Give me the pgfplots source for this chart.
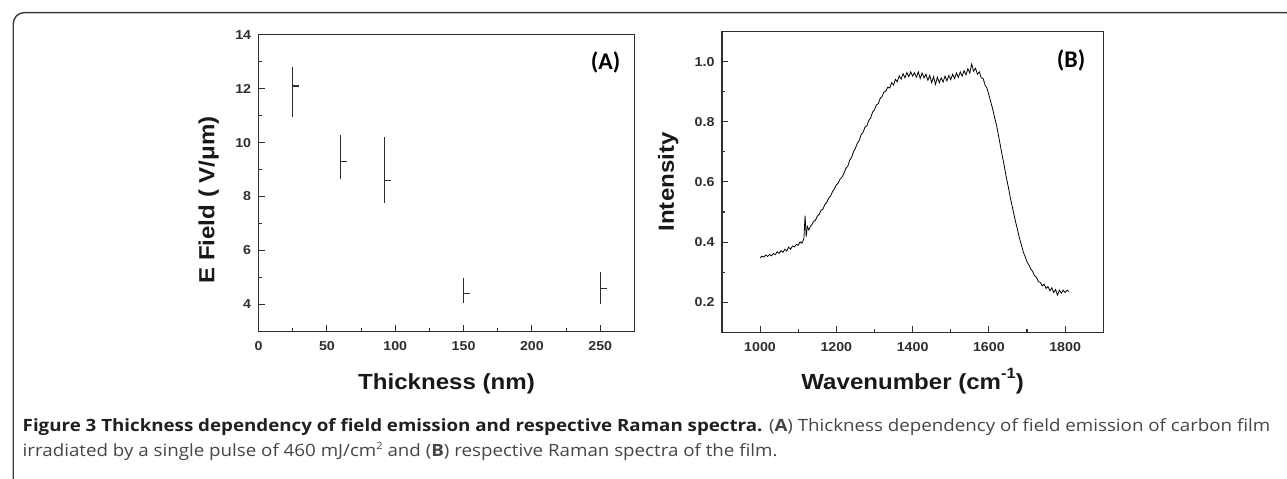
\documentclass[border=0pt]{standalone}
\usepackage{fontspec}
\usepackage{pgfplots}
\pgfplotsset{compat=1.18}
\newfontfamily\figfont[FakeStretch=1.1]{Liberation Sans}
\newfontfamily\labfont{Carlito}
\newfontfamily\capfont{Open Sans}
\definecolor{axiscol}{HTML}{2E2E2E}
\definecolor{captext}{HTML}{454545}
\definecolor{capbold}{HTML}{231F20}
\definecolor{framecol}{HTML}{3A3A3A}

% short dash to the right of the centre of each error bar
\pgfdeclareplotmark{rtick}{%
  \pgfpathmoveto{\pgfpointorigin}%
  \pgfpathlineto{\pgfpoint{6.5pt}{0pt}}%
  \pgfusepathqstroke}

\pgfplotsset{
  panel/.style={
    scale only axis,
    axis line style={line width=1.3pt, draw=axiscol},
    tick pos=left,
    tick align=inside,
    major tick length=6pt,
    minor tick length=3.5pt,
    tick style={line width=1.1pt, draw=axiscol},
    minor tick num=1,
    /pgf/number format/assume math mode=true,
    /pgf/number format/1000 sep={},
    ticklabel style={font=\figfont\bfseries\fontsize{13}{13}\selectfont, text=axiscol},
    xticklabel style={yshift=-7pt},
    yticklabel style={xshift=-4pt},
    label style={font=\figfont\bfseries\fontsize{22}{22}\selectfont, text=black!90},
  },
}

\begin{document}
\newsavebox\capone
\sbox\capone{\capfont\fontsize{17}{17}\selectfont
  {\bfseries\color{capbold}Figure 3 Thickness dependency of field emission and respective Raman spectra.}
  \color{captext}(\textbf{A}) Thickness dependency of field emission of carbon film}
\pgfmathsetmacro\capsc{1254pt/\the\wd\capone}
\begin{tikzpicture}
  \useasboundingbox (0pt,0pt) rectangle (1287pt,-481pt);
  \clip (0pt,0pt) rectangle (1287pt,-481pt);
  \draw[framecol, line width=1.4pt, rounded corners=11pt]
    (6.7pt,-500pt) -- (6.7pt,-12.7pt) -- (1297pt,-12.7pt) -- (1297pt,-500pt);

  % (A) field emission threshold against film thickness
  \begin{axis}[panel,
    at={(253.3pt,-333pt)}, anchor=south west,
    width=377.7pt, height=298pt,
    xmin=0, xmax=275, ymin=3, ymax=14,
    xtick={0,50,...,250}, ytick={4,6,...,14},
    xlabel={Thickness (nm)},
    ylabel={E Field ( V/μm)},
    xlabel style={at={(axis description cs:0.5,-0.195)}, anchor=base},
    ylabel style={at={(axis description cs:-0.133,0.443)}, anchor=center},
  ]
    \addplot[axiscol, only marks, mark=rtick, mark options={line width=1.3pt},
      error bars/.cd, y dir=both, y explicit, error mark=none,
      error bar style={line width=1.4pt, axiscol}]
      coordinates {
        (25,12.1)  += (0,0.70) -= (0,1.16)
        (60,9.3)   += (0,0.99) -= (0,0.64)
        (92,8.6)   += (0,1.60) -= (0,0.85)
        (150,4.4)  += (0,0.57) -= (0,0.35)
        (250,4.6)  += (0,0.60) -= (0,0.60)
      };
  \end{axis}
  \node[font=\labfont\bfseries\fontsize{24}{24}\selectfont] at (602pt,-63pt) {(A)};

  % (B) Raman spectrum
  \begin{axis}[panel,
    at={(719pt,-334pt)}, anchor=south west,
    width=383.3pt, height=302.3pt,
    xmin=900, xmax=1900, ymin=0.1, ymax=1.1,
    xtick={1000,1200,...,1800}, ytick={0.2,0.4,...,1.0},
    yticklabel style={/pgf/number format/.cd, fixed, fixed zerofill, precision=1},
    xlabel={Wavenumber (cm\raisebox{0.5em}{\fontsize{15}{15}\selectfont -1})},
    ylabel={Intensity},
    xlabel style={at={(axis description cs:0.5,-0.1886)}, anchor=base},
    ylabel style={at={(axis description cs:-0.141,0.5)}, anchor=center},
  ]
    \addplot[black, line width=0.8pt] coordinates {
      (1000,0.348) (1005,0.353) (1010,0.350) (1015,0.357) (1020,0.352)
      (1025,0.359) (1030,0.354) (1035,0.362) (1040,0.358) (1045,0.368)
      (1050,0.362) (1055,0.371) (1060,0.366) (1065,0.376) (1070,0.370)
      (1075,0.383) (1080,0.376) (1085,0.387) (1090,0.384) (1095,0.392)
      (1100,0.389) (1105,0.401) (1110,0.396) (1115,0.412) (1118,0.488)
      (1121,0.418) (1124,0.452) (1128,0.440) (1132,0.452) (1136,0.458)
      (1140,0.468) (1145,0.472) (1150,0.486) (1155,0.492) (1160,0.506)
      (1165,0.510) (1170,0.525) (1175,0.532) (1180,0.546) (1185,0.553)
      (1190,0.568) (1195,0.577) (1200,0.590) (1205,0.596) (1210,0.610)
      (1215,0.616) (1220,0.628) (1225,0.645) (1230,0.652) (1235,0.672)
      (1240,0.682) (1245,0.700) (1250,0.712) (1255,0.728) (1260,0.738)
      (1265,0.757) (1270,0.764) (1275,0.782) (1280,0.786) (1285,0.804)
      (1290,0.813) (1295,0.832) (1300,0.840) (1305,0.856) (1310,0.860)
      (1315,0.878) (1320,0.884) (1325,0.899) (1330,0.902) (1335,0.915)
      (1340,0.912) (1345,0.930) (1350,0.922) (1355,0.941) (1360,0.933)
      (1365,0.953) (1370,0.942) (1375,0.960) (1380,0.946) (1385,0.964)
      (1390,0.950) (1395,0.966) (1400,0.952) (1405,0.963) (1410,0.948)
      (1415,0.966) (1420,0.944) (1425,0.962) (1430,0.946) (1435,0.958)
      (1440,0.938) (1445,0.954) (1450,0.930) (1455,0.950) (1460,0.924)
      (1465,0.948) (1470,0.930) (1475,0.946) (1480,0.932) (1485,0.952)
      (1490,0.936) (1495,0.954) (1500,0.940) (1505,0.958) (1510,0.944)
      (1515,0.962) (1520,0.948) (1525,0.966) (1530,0.952) (1535,0.970)
      (1540,0.956) (1545,0.976) (1550,0.962) (1555,0.992) (1560,0.968)
      (1565,0.978) (1570,0.958) (1575,0.966) (1580,0.946) (1585,0.944)
      (1590,0.922) (1595,0.912) (1600,0.890) (1605,0.866) (1610,0.842)
      (1615,0.814) (1620,0.790) (1625,0.756) (1630,0.722) (1635,0.688)
      (1640,0.656) (1645,0.620) (1650,0.590) (1655,0.556) (1660,0.526)
      (1665,0.496) (1670,0.468) (1675,0.442) (1680,0.414) (1685,0.392)
      (1690,0.368) (1695,0.352) (1700,0.334) (1705,0.324) (1710,0.310)
      (1715,0.302) (1720,0.288) (1725,0.282) (1730,0.268) (1735,0.266)
      (1740,0.254) (1745,0.260) (1750,0.246) (1755,0.252) (1760,0.238)
      (1765,0.248) (1770,0.232) (1775,0.242) (1780,0.224) (1785,0.240)
      (1790,0.230) (1795,0.240) (1800,0.232) (1805,0.240) (1810,0.236)
    };
  \end{axis}
  \node[font=\labfont\bfseries\fontsize{24}{24}\selectfont] at (1070pt,-61pt) {(B)};

  % caption
  \node[anchor=base west, inner sep=0pt] at (16pt,-434pt)
    {\scalebox{\capsc}[1]{\usebox\capone}};
  \node[anchor=base west, inner sep=0pt] at (16pt,-459pt)
    {\scalebox{\capsc}[1]{\capfont\fontsize{17}{17}\selectfont\color{captext}%
      irradiated by a single pulse of 460 mJ/cm\raisebox{0.45em}{\fontsize{10}{10}\selectfont 2}
      and (\textbf{B}) respective Raman spectra of the film.}};
\end{tikzpicture}
\end{document}
